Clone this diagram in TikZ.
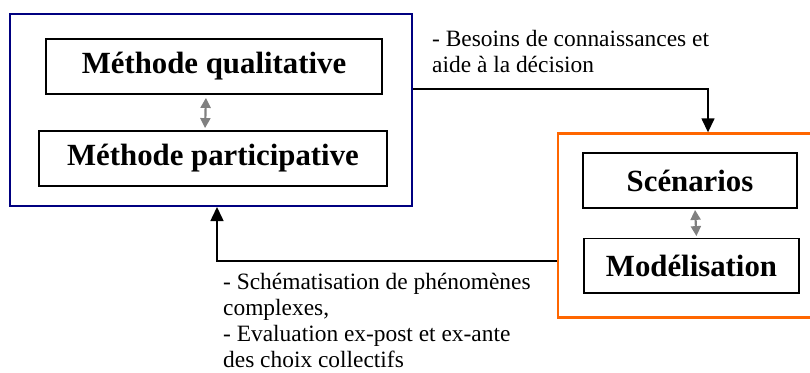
\documentclass[tikz,border=0pt]{standalone}
\usepackage{fontspec}
\setmainfont{Liberation Serif}
\usetikzlibrary{arrows.meta}
\definecolor{navyblue}{RGB}{0,0,128}
\definecolor{orangeline}{RGB}{255,102,0}
\definecolor{grayarrow}{RGB}{128,128,128}
\tikzset{
  outerbox/.style={draw, line width=2pt, inner sep=0pt, fill=none},
  innerbox/.style={draw=black, line width=1.8pt, inner sep=0pt,
    font=\fontsize{30.8}{34}\selectfont\bfseries},
  lbl/.style={anchor=base west, inner sep=0pt, font=\fontsize{23.4}{26}\selectfont},
  flow/.style={draw=black, line width=1.5pt, -{Triangle[width=13pt,length=14pt]}},
  link/.style={draw=grayarrow, line width=2.2pt, {Triangle[width=10pt,length=10pt]}-{Triangle[width=10pt,length=10pt]}},
}
\begin{document}
\begin{tikzpicture}[x=1pt,y=-1pt]
\useasboundingbox (0,0) rectangle (810,372);
% left group
\node[outerbox, draw=navyblue, minimum width=402pt, minimum height=192pt] (blue) at (211,110) {};
\node[innerbox, minimum width=336pt, minimum height=55pt] (mq) at (214,66.5) {Méthode qualitative};
\node[innerbox, minimum width=348pt, minimum height=55pt] (mp) at (213,158.5) {Méthode participative};
% right group
\node[outerbox, draw=orangeline, line width=2.4pt, minimum width=254pt, minimum height=184pt] (orange) at (685,225.5) {};
\node[innerbox, minimum width=214pt, minimum height=55pt] (sc) at (690,180.5) {Scénarios};
\node[innerbox, minimum width=215pt, minimum height=54.5pt] (mo) at (691.5,265.75) {Modélisation};
% gray links
\draw[link, shorten <=3pt, shorten >=2pt] ([xshift=-8pt]mq.south) -- ([xshift=-8pt]mp.north);
\draw[link, shorten <=1pt, shorten >=1.5pt] ([xshift=5pt]sc.south) -- ([xshift=5pt]mo.north);
% flows
\draw[flow] ([yshift=21pt]blue.east) -| ([xshift=23pt]orange.north);
\draw[flow] ([yshift=-35.5pt]orange.west) -| ([xshift=6pt]blue.south);
% labels
\node[lbl] (t1) at (432,46.5) {- Besoins de connaissances et};
\node[lbl] (t2) at (432,72.5) {aide à la décision};
\node[lbl] (b1) at (223,289.5) {- Schématisation de phénomènes};
\node[lbl] (b2) at (223,315.5) {complexes,};
\node[lbl] (b3) at (223,341.5) {- Evaluation ex-post et ex-ante};
\node[lbl] (b4) at (223,367) {des choix collectifs};
\end{tikzpicture}
\end{document}
